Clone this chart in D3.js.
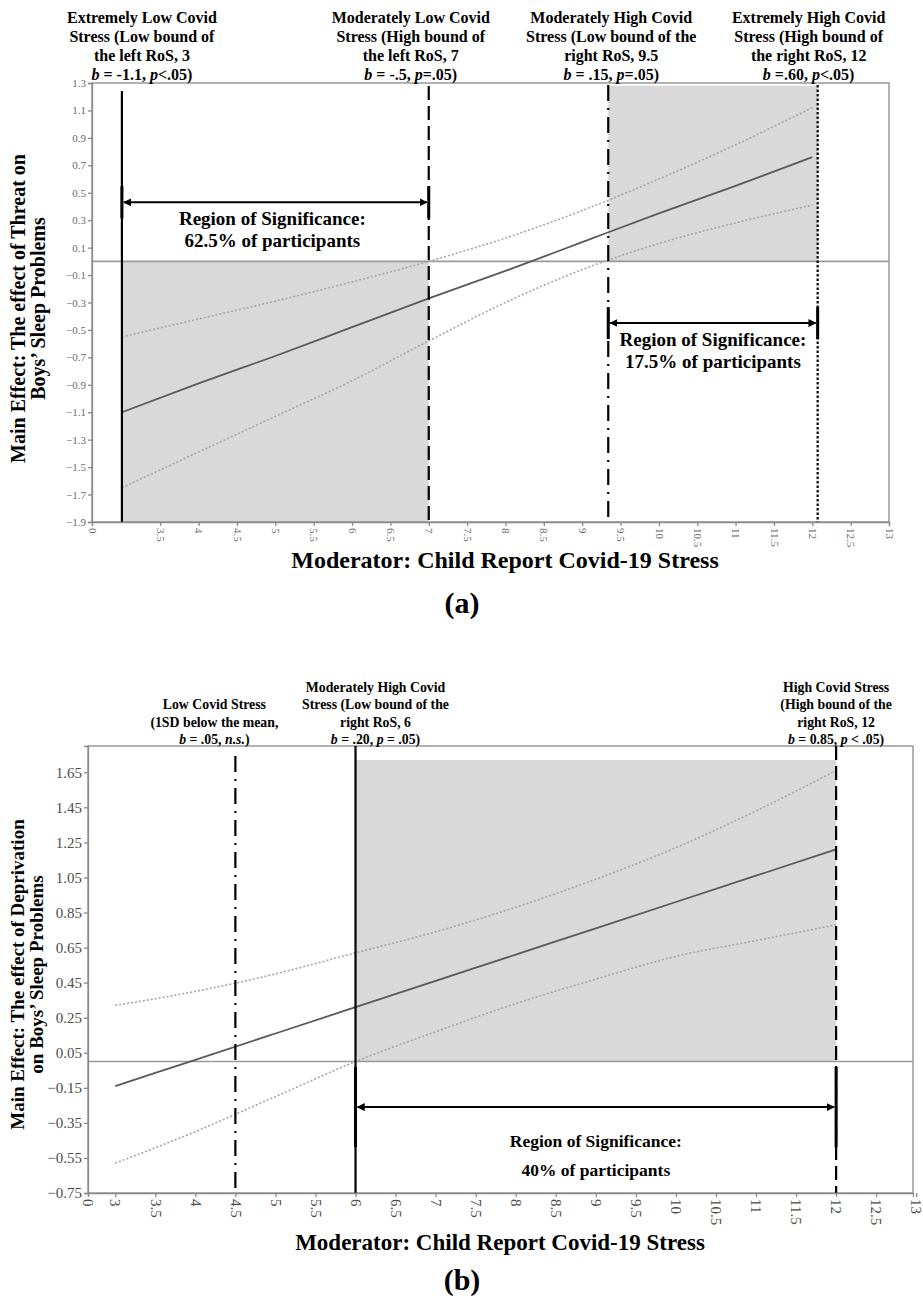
<!DOCTYPE html>
<html>
<head>
<meta charset="utf-8">
<script src="https://cdn.jsdelivr.net/npm/d3@7"></script>
<style>
	body { margin: 0; background: #fff; }
	svg  { display: block; }
	text { font-family: "Liberation Serif", "Times New Roman", serif; }
</style>
</head>
<body>
<svg id="chart" width="923" height="1304"></svg>
<script>
// ---- panel (a): threat x covid stress
var xsA        = [ 3, 4, 5, 6, 7, 8, 9, 10, 11, 12 ];
var estA       = [ -1.10, -0.89, -0.69, -0.48, -0.27, -0.07, 0.14, 0.35, 0.55, 0.76 ];
var upperA     = [ -0.55, -0.42, -0.29, -0.15, 0.00, 0.17, 0.37, 0.60, 0.85, 1.12 ];
var lowerA     = [ -1.65, -1.39, -1.13, -0.87, -0.58, -0.30, -0.06, 0.13, 0.28, 0.41 ];
var markersA   = [ 3, 7, 9.34, 12.07 ];
var rosA       = [ [ 3, 7, 'below' ], [ 9.34, 12.07, 'above' ] ];
var rosTextA   = [ [ 'Region of Significance:', '62.5% of participants' ], [ 'Region of Significance:', '17.5% of participants' ] ];
var yTicksA    = [ 1.3, 1.1, 0.9, 0.7, 0.5, 0.3, 0.1, -0.1, -0.3, -0.5, -0.7, -0.9, -1.1, -1.3, -1.5, -1.7, -1.9 ];
var xTicksA    = [ 0, 3.5, 4, 4.5, 5, 5.5, 6, 6.5, 7, 7.5, 8, 8.5, 9, 9.5, 10, 10.5, 11, 11.5, 12, 12.5, 13 ];
var notesA     = [
	  [ 'Extremely Low Covid', 'Stress (Low bound of', 'the left RoS, 3', '*b* = -1.1, *p*<.05)' ]
	, [ 'Moderately Low Covid', 'Stress (High bound of', 'the left RoS, 7', '*b* = -.5, *p*=.05)' ]
	, [ 'Moderately High Covid', 'Stress (Low bound of the', 'right RoS, 9.5', '*b* = .15, *p*=.05)' ]
	, [ 'Extremely High Covid', 'Stress (High bound of', 'the right RoS, 12', '*b* =.60, *p*<.05)' ]
];
// ---- panel (b): deprivation x covid stress
var xsB        = [ 3, 4, 5, 6, 7, 8, 9, 10, 11, 12 ];
var estB       = [ -0.14, 0.01, 0.16, 0.31, 0.46, 0.61, 0.76, 0.91, 1.06, 1.21 ];
var upperB     = [ 0.32, 0.40, 0.50, 0.62, 0.74, 0.88, 1.04, 1.22, 1.43, 1.66 ];
var lowerB     = [ -0.58, -0.40, -0.20, 0.00, 0.17, 0.33, 0.47, 0.60, 0.69, 0.78 ];
var markersB   = [ 4.5, 6, 12 ];
var rosB       = [ [ 6, 12, 'above' ] ];
var rosTextB   = [ [ 'Region of Significance:', '40% of participants' ] ];
var yTicksB    = [ 1.65, 1.45, 1.25, 1.05, 0.85, 0.65, 0.45, 0.25, 0.05, -0.15, -0.35, -0.55, -0.75 ];
var xTicksB    = [ 0, 3, 3.5, 4, 4.5, 5, 5.5, 6, 6.5, 7, 7.5, 8, 8.5, 9, 9.5, 10, 10.5, 11, 11.5, 12, 12.5, 13 ];
var notesB     = [
	  [ 'Low Covid Stress', '(1SD below the mean,', '*b* = .05, *n.s.*)' ]
	, [ 'Moderately High Covid', 'Stress (Low bound of the', 'right RoS, 6', '*b* = .20, *p* = .05)' ]
	, [ 'High Covid Stress', '(High bound of the', 'right RoS, 12', '*b* = 0.85, *p* < .05)' ]
];

var svg = d3.select( '#chart' );
svg.append( 'rect' ).attr( 'width', 923 ).attr( 'height', 1304 ).attr( 'fill', '#fff' );
svg.append( 'defs' ).append( 'marker' )
	.attr( 'id', 'arrow' )
	.attr( 'viewBox', '0 0 10 10' )
	.attr( 'refX', 9 )
	.attr( 'refY', 5 )
	.attr( 'markerWidth', 8 )
	.attr( 'markerHeight', 8 )
	.attr( 'markerUnits', 'userSpaceOnUse' )
	.attr( 'orient', 'auto-start-reverse' )
	.append( 'path' )
	.attr( 'd', 'M0,0L10,5L0,10z' )
	.attr( 'fill', '#000' );

var dashes = {
	  solid   : null
	, dash    : '14,6'
	, dashdot : '16,7,2,7'
	, dot     : '2.5,2'
};

function richText( sel, str ) { // *word* = italic
	str.split( '*' ).forEach( ( part, i ) => {
		if ( part ) sel.append( 'tspan' ).text( part ).style( 'font-style', i % 2 ? 'italic' : 'normal' );
	} );
}

function drawPanel( P ) {
	var g  = svg.append( 'g' );
	var x  = d3.scaleLinear().domain( P.xDomain ).range( [ P.left, P.right ] );
	var y  = d3.scaleLinear().domain( P.yDomain ).range( [ P.bottom, P.top ] );
	// shaded regions of significance
	P.ros.forEach( r => {
		var top = r[ 2 ] === 'above' ? y( P.shadeTop ) : y( 0 );
		var bot = r[ 2 ] === 'above' ? y( 0 ) : y( P.yDomain[ 0 ] );
		g.append( 'rect' )
			.attr( 'x', x( r[ 0 ] ) )
			.attr( 'y', top )
			.attr( 'width', x( r[ 1 ] ) - x( r[ 0 ] ) )
			.attr( 'height', bot - top )
			.attr( 'fill', '#d9d9d9' );
	} );
	// frame
	g.append( 'rect' )
		.attr( 'x', P.left )
		.attr( 'y', P.top )
		.attr( 'width', P.right - P.left )
		.attr( 'height', P.bottom - P.top )
		.attr( 'fill', 'none' )
		.attr( 'stroke', '#8a8a8a' )
		.attr( 'stroke-width', 1.3 );
	// zero line
	g.append( 'line' )
		.attr( 'x1', P.left ).attr( 'x2', P.right )
		.attr( 'y1', y( 0 ) ).attr( 'y2', y( 0 ) )
		.attr( 'stroke', '#9a9a9a' )
		.attr( 'stroke-width', 1.6 );
	// confidence bands + simple slope
	var line = ( ys ) => d3.line().curve( d3.curveMonotoneX ).x( ( d, i ) => x( P.xs[ i ] ) ).y( d => y( d ) )( ys );
	[ P.upper, P.lower ].forEach( band => {
		g.append( 'path' )
			.attr( 'd', line( band ) )
			.attr( 'fill', 'none' )
			.attr( 'stroke', '#a6a6a6' )
			.attr( 'stroke-width', 1.6 )
			.attr( 'stroke-dasharray', '2,2' );
	} );
	g.append( 'path' )
		.attr( 'd', line( P.est ) )
		.attr( 'fill', 'none' )
		.attr( 'stroke', '#595959' )
		.attr( 'stroke-width', 1.8 );
	// vertical markers
	P.markers.forEach( ( m, i ) => {
		g.append( 'line' )
			.attr( 'x1', x( m ) ).attr( 'x2', x( m ) )
			.attr( 'y1', P.top + P.markTop[ i ] ).attr( 'y2', P.bottom )
			.attr( 'stroke', '#000' )
			.attr( 'stroke-width', 2.2 )
			.attr( 'stroke-dasharray', dashes[ P.styles[ i ] ] );
	} );
	// axes
	var yAxis = g.append( 'g' )
		.attr( 'transform', 'translate('+ P.left +',0)' )
		.call( d3.axisLeft( y ).tickValues( P.yTicks ).tickSize( 4 ).tickFormat( d3.format( P.yFormat ) ) );
	var xAxis = g.append( 'g' )
		.attr( 'transform', 'translate(0,'+ P.bottom +')' )
		.call( d3.axisBottom( x ).tickValues( P.xTicks.map( v => v === 0 ? P.xDomain[ 0 ] : v ) ).tickSize( 4 ).tickFormat( ( d, i ) => String( P.xTicks[ i ] ) ) );
	[ yAxis, xAxis ].forEach( a => {
		a.selectAll( 'path, line' ).attr( 'stroke', '#8a8a8a' ).attr( 'stroke-width', 1.3 );
		a.selectAll( 'text' ).attr( 'fill', P.tickColor ).style( 'font-size', P.tickSize +'px' ).style( 'font-family', '"Liberation Serif", serif' );
	} );
	yAxis.selectAll( 'text' ).attr( 'x', -6 );
	xAxis.selectAll( 'text' )
		.attr( 'transform', 'rotate(90)' )
		.attr( 'x', 6 )
		.attr( 'y', 0 )
		.attr( 'dy', '0.35em' )
		.style( 'text-anchor', 'start' );
	// region of significance arrows
	P.ros.forEach( ( r, i ) => {
		var ya = y( P.arrowY[ i ] );
		var x0 = x( r[ 0 ] ), x1 = x( r[ 1 ] );
		g.append( 'line' )
			.attr( 'x1', x0 + 2 ).attr( 'x2', x1 - 2 )
			.attr( 'y1', ya ).attr( 'y2', ya )
			.attr( 'stroke', '#000' )
			.attr( 'stroke-width', 2 )
			.attr( 'marker-start', 'url(#arrow)' )
			.attr( 'marker-end', 'url(#arrow)' );
		[ x0, x1 ].forEach( xx => {
			g.append( 'line' )
				.attr( 'x1', xx ).attr( 'x2', xx )
				.attr( 'y1', ya - P.barHalf ).attr( 'y2', ya + P.barHalf )
				.attr( 'stroke', '#000' )
				.attr( 'stroke-width', 3 );
		} );
		var cx = ( x0 + x1 ) / 2 + P.rosDx[ i ];
		var t = g.append( 'text' )
			.attr( 'x', cx )
			.attr( 'y', ya + P.rosDy )
			.attr( 'text-anchor', 'middle' )
			.style( 'font-weight', 'bold' )
			.style( 'font-size', P.rosSize +'px' );
		P.rosText[ i ].forEach( ( s, k ) => {
			t.append( 'tspan' ).attr( 'x', cx ).attr( 'dy', k ? P.rosLead : 0 ).text( s );
		} );
	} );
	// notes above the frame
	P.notes.forEach( ( lines, i ) => {
		var cx = x( P.markers[ i ] ) + P.noteDx[ i ];
		lines.forEach( ( s, k ) => {
			var t = g.append( 'text' )
				.attr( 'x', cx )
				.attr( 'y', P.noteBase - ( lines.length - 1 - k ) * P.noteLead )
				.attr( 'text-anchor', 'middle' )
				.style( 'font-weight', 'bold' )
				.style( 'font-size', P.noteSize +'px' );
			richText( t, s );
		} );
	} );
	// axis titles
	var yt = g.append( 'text' )
		.attr( 'transform', 'translate('+ P.yTitleX +','+ ( ( P.top + P.bottom ) / 2 + P.yTitleDy ) +') rotate(-90)' )
		.attr( 'text-anchor', 'middle' )
		.style( 'font-weight', 'bold' )
		.style( 'font-size', P.yTitleSize +'px' );
	P.yTitle.forEach( ( s, k ) => yt.append( 'tspan' ).attr( 'x', 0 ).attr( 'dy', k ? P.yTitleLead : 0 ).text( s ) );
	g.append( 'text' )
		.attr( 'x', P.xTitleX )
		.attr( 'y', P.xTitleY )
		.attr( 'text-anchor', 'middle' )
		.style( 'font-weight', 'bold' )
		.style( 'font-size', P.xTitleSize +'px' )
		.text( 'Moderator: Child Report Covid-19 Stress' );
	g.append( 'text' )
		.attr( 'x', 462 )
		.attr( 'y', P.tagY )
		.attr( 'text-anchor', 'middle' )
		.style( 'font-weight', 'bold' )
		.style( 'font-size', '30px' )
		.text( P.tag );
}

drawPanel( {
	  xs: xsA, est: estA, upper: upperA, lower: lowerA
	, markers: markersA, styles: [ 'solid', 'dash', 'dashdot', 'dot' ], markTop: [ 8, 3, 2, 2 ]
	, ros: rosA, rosText: rosTextA, arrowY: [ 0.43, -0.45 ], rosDx: [ -3, 0 ], rosDy: 23, rosSize: 19, rosLead: 22, barHalf: 16
	, xDomain: [ 2.61, 13 ], yDomain: [ -1.9, 1.3 ], shadeTop: 1.28
	, left: 92, right: 889, top: 83, bottom: 522
	, yTicks: yTicksA, xTicks: xTicksA, yFormat: '.1f', tickColor: '#6b6b6b', tickSize: 11
	, notes: notesA, noteDx: [ 20, -18, 3, -9 ], noteBase: 80, noteLead: 19, noteSize: 16
	, yTitle: [ 'Main Effect: The effect of Threat on', 'Boys\u2019 Sleep Problems' ], yTitleX: 25, yTitleDy: 6, yTitleLead: 20, yTitleSize: 20
	, xTitleX: 505, xTitleY: 568, xTitleSize: 24, tag: '(a)', tagY: 613
} );
drawPanel( {
	  xs: xsB, est: estB, upper: upperB, lower: lowerB
	, markers: markersB, styles: [ 'dashdot', 'solid', 'dash' ], markTop: [ 10, 0, 0 ]
	, ros: rosB, rosText: rosTextB, arrowY: [ -0.26 ], rosDx: [ 0 ], rosDy: 40, rosSize: 17.5, rosLead: 29, barHalf: 40
	, xDomain: [ 2.66, 12.96 ], yDomain: [ -0.75, 1.80 ], shadeTop: 1.72
	, left: 88, right: 913, top: 746, bottom: 1193
	, yTicks: yTicksB, xTicks: xTicksB, yFormat: '.2f', tickColor: '#4d4d4d', tickSize: 15
	, notes: notesB, noteDx: [ -21, 20, 0 ], noteBase: 744, noteLead: 17.5, noteSize: 13.8
	, yTitle: [ 'Main Effect: The effect of Deprivation', 'on Boys\u2019 Sleep Problems' ], yTitleX: 24, yTitleDy: 5, yTitleLead: 19, yTitleSize: 19
	, xTitleX: 500, xTitleY: 1250, xTitleSize: 23, tag: '(b)', tagY: 1290
} );
</script>
</body>
</html>
